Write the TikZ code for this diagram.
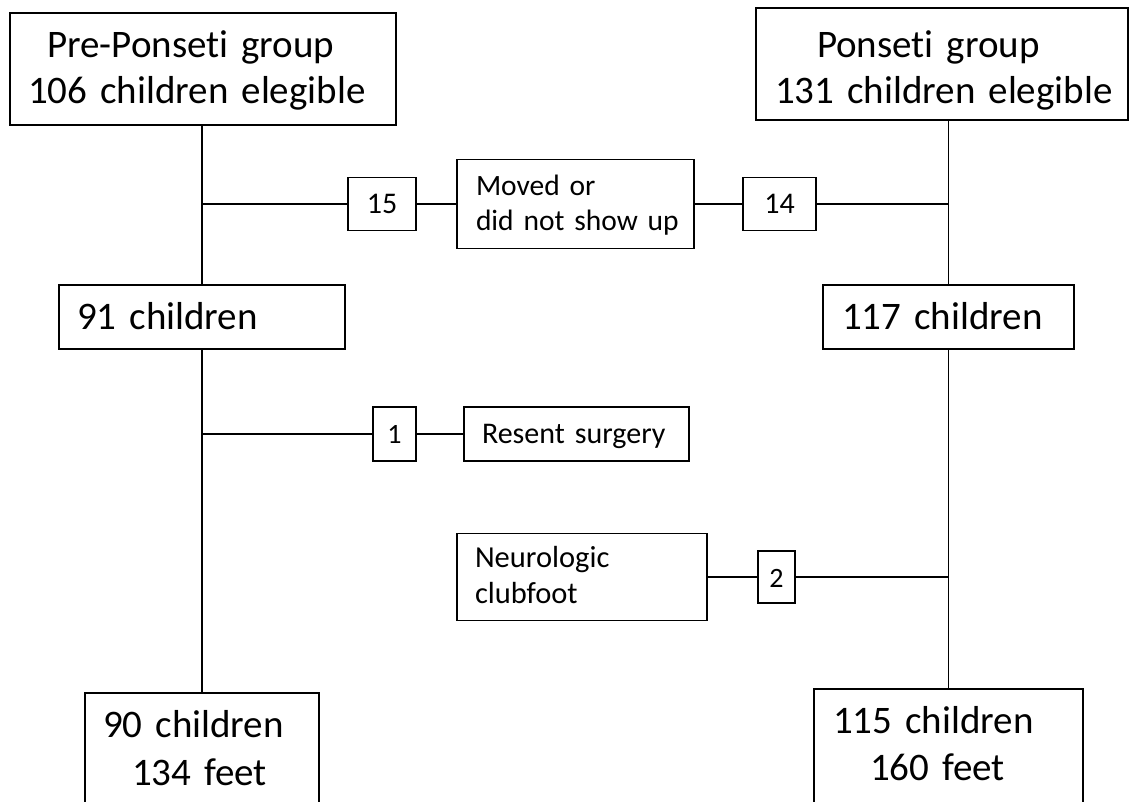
\documentclass[tikz,border=0pt]{standalone}
\usepackage{fontspec}
\setmainfont[Ligatures=NoCommon,WordSpace=0.8]{Carlito}
\begin{document}
\begin{tikzpicture}[x=1pt,y=-1pt,
  box/.style={draw, line width=1.8pt, inner sep=0pt, align=left},
  numbox/.style={draw, line width=1.6pt, inner sep=0pt, align=center,
    text depth=0pt, font=\fontsize{30}{36}\selectfont},
  conn/.style={line width=1.3pt}]
\fill[white] (0,0) rectangle (1132,801);
\useasboundingbox (0,0) rectangle (1132,801);

% top boxes
\node[box, line width=2pt, minimum width=386pt, minimum height=112pt, text width=386pt,
  text height=0pt, text depth=24pt, font=\fontsize{39}{46}\selectfont] (tl) at (203,69)
  {\hspace*{37pt}Pre-Ponseti group\\\hspace*{18pt}106 children elegible};
\node[box, line width=2.8pt, minimum width=372pt, minimum height=112pt, text width=372pt,
  text height=0pt, text depth=14pt, font=\fontsize{39}{46}\selectfont] (tr) at (942,64)
  {\hspace*{61pt}Ponseti group\\\hspace*{19pt}131 children elegible};

% middle boxes
\node[box, line width=2.4pt, minimum width=286pt, minimum height=64pt, text width=286pt,
  text height=24pt, text depth=0pt, font=\fontsize{39}{46}\selectfont] (b91) at (202,317)
  {\hspace*{18pt}91 children};
\node[box, line width=2.4pt, minimum width=251pt, minimum height=64pt, text width=251pt,
  text height=24pt, text depth=0pt, font=\fontsize{39}{46}\selectfont] (b117) at (948.5,317)
  {\hspace*{19pt}117 children};

% bottom boxes
\node[box, line width=2.4pt, minimum width=234pt, minimum height=120pt, text width=234pt,
  text height=0pt, text depth=32pt, font=\fontsize{39}{48}\selectfont] (b90) at (202,753)
  {\hspace*{18pt}90 children\\\hspace*{47pt}134 feet};
\node[box, line width=2.4pt, minimum width=269pt, minimum height=120pt, text width=269pt,
  text height=0pt, text depth=32pt, font=\fontsize{39}{47}\selectfont] (b115) at (948.5,749)
  {\hspace*{19pt}115 children\\\hspace*{56pt}160 feet};

% exclusion boxes
\node[numbox, minimum width=68pt, minimum height=53pt, text width=68pt, text height=19pt] (n15) at (382,204) {15};
\node[box, line width=1.6pt, minimum width=237pt, minimum height=89pt, text width=237pt,
  text height=0pt, text depth=18pt, font=\fontsize{29.5}{35}\selectfont] (moved) at (575.5,204)
  {\hspace*{19pt}Moved or\\\hspace*{19pt}did not show up};
\node[numbox, minimum width=73pt, minimum height=53pt, text width=73pt, text height=19pt] (n14) at (779.5,204) {14};

\node[numbox, minimum width=43pt, minimum height=54pt, text width=43pt, text height=18pt,
  font=\fontsize{28}{34}\selectfont] (n1) at (394.5,434) {1};
\node[box, line width=1.6pt, minimum width=225pt, minimum height=54pt, text width=225pt,
  text height=18pt, text depth=0pt, font=\fontsize{30}{34}\selectfont] (resent) at (576.5,434)
  {\hspace*{18pt}Resent surgery};

\node[box, line width=1.6pt, minimum width=250pt, minimum height=87pt, text width=250pt,
  text height=0pt, text depth=20pt, font=\fontsize{30.5}{36}\selectfont] (neuro) at (582,577)
  {\hspace*{18pt}Neurologic\\\hspace*{18pt}clubfoot};
\node[numbox, minimum width=37pt, minimum height=52pt, text width=37pt, text height=20pt,
  font=\fontsize{28}{34}\selectfont] (n2) at (776.5,577) {2};

% connectors
\draw[conn] (tl.south -| b91.north) -- (b91.north);
\draw[conn] (b91.south) -- (b90.north);
\draw[conn] (tr.south -| b117.north) -- (b117.north);
\draw[conn] (b117.south) -- (b115.north);
\draw[conn] (n15.west -| b91.north) -- (n15.west);
\draw[conn] (n15.east) -- (moved.west);
\draw[conn] (moved.east) -- (n14.west);
\draw[conn] (n14.east) -- (n14.east -| b117.north);
\draw[conn] (n1.west -| b91.north) -- (n1.west);
\draw[conn] (n1.east) -- (resent.west);
\draw[conn] (neuro.east) -- (n2.west);
\draw[conn] (n2.east) -- (n2.east -| b117.north);
\end{tikzpicture}
\end{document}
